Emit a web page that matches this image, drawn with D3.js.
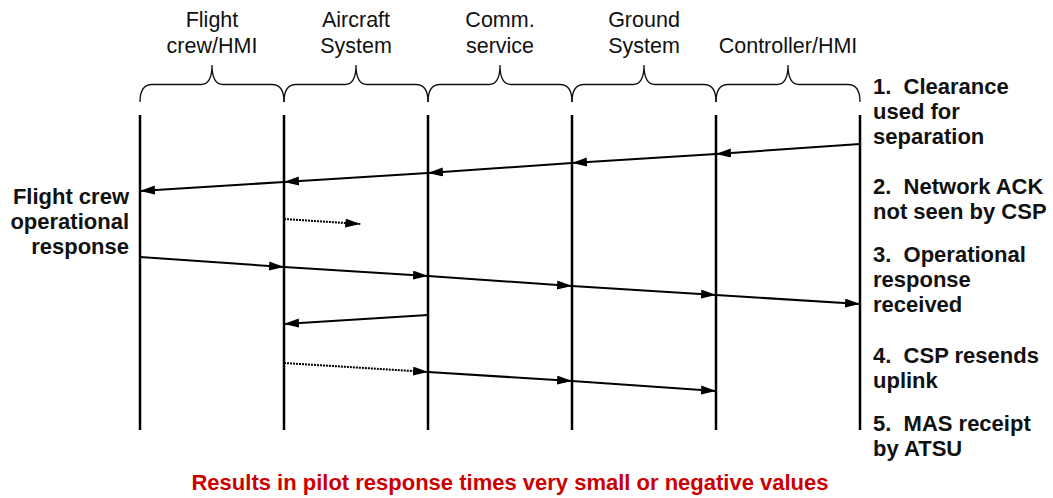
<!DOCTYPE html>
<html>
<head>
<meta charset="utf-8">
<script src="https://cdn.jsdelivr.net/npm/d3@7"></script>
<style>
  body { margin: 0; background: #fff; }
  svg { display: block; font-family: Arial, "Liberation Sans", sans-serif; }
  .lifeline { stroke: #000; stroke-width: 2.5; }
  .brace { fill: none; stroke: #111; stroke-width: 1.3; }
  .msg { fill: none; stroke: #000; stroke-width: 2; }
  .msg.unconfirmed { stroke-dasharray: 2, 1; }
  .lane { font-size: 21.5px; fill: #111; text-anchor: middle; }
  .step, .note { font-size: 22px; font-weight: bold; fill: #111; }
  .result { font-size: 22px; font-weight: bold; fill: #cc0000; text-anchor: middle; }
</style>
</head>
<body>
<svg id="chart"></svg>
<script>
/**********************************************
 *
 * sequence chart: lanes, messages, notes
 *
 **********************************************/
const width = 1053
const height = 498

// lanes sit between lifelines 0..5
const lifelines = [0, 1, 2, 3, 4, 5]
const laneLabels = [
    ["Flight", "crew/HMI"],
    ["Aircraft", "System"],
    ["Comm.", "service"],
    ["Ground", "System"],
    ["Controller/HMI"]
]

// messages: lifeline index per hop, and time of each hop
const uplinkHops = [5, 4, 3, 2, 1, 0]
const uplinkTimes = [29, 39, 48, 58, 67, 76]
const ackHops = [1, 1.53]
const ackTimes = [104, 109]
const responseHops = [0, 1, 2, 3, 4, 5]
const responseTimes = [142, 152, 161, 171, 180, 189]
const cspHops = [2, 1]
const cspTimes = [200, 209]
const resendHops = [1, 2]
const resendTimes = [248, 257]
const masHops = [2, 3, 4]
const masTimes = [257, 266, 276]

const messages = [
    { hops: uplinkHops, times: uplinkTimes, kind: "delivered" },
    { hops: ackHops, times: ackTimes, kind: "unconfirmed" },
    { hops: responseHops, times: responseTimes, kind: "delivered" },
    { hops: cspHops, times: cspTimes, kind: "delivered" },
    { hops: resendHops, times: resendTimes, kind: "unconfirmed" },
    { hops: masHops, times: masTimes, kind: "delivered" }
]

const steps = [
    ["1.  Clearance", "used for", "separation"],
    ["2.  Network ACK", "not seen by CSP"],
    ["3.  Operational", "response", "received"],
    ["4.  CSP resends", "uplink"],
    ["5.  MAS receipt", "by ATSU"]
]
const noteLines = ["Flight crew", "operational", "response"]
const resultText = "Results in pilot response times very small or negative values"

const timeMax = 315

function setupChart() {
    const chart = d3.select('#chart')
        .attr('width', width)
        .attr('height', height)

    const xScale = d3.scaleLinear().domain([0, 5]).range([140, 860])
    const yScale = d3.scaleLinear().domain([0, timeMax]).range([115, 430])

    chart.append('defs').append('marker')
        .attr('id', 'head')
        .attr('markerUnits', 'userSpaceOnUse')
        .attr('markerWidth', 16).attr('markerHeight', 10)
        .attr('refX', 15).attr('refY', 4.5)
        .attr('orient', 'auto')
        .append('path')
        .attr('d', 'M0,0 L15,4.5 L0,9 Z')
        .attr('fill', '#000')

    // lane titles
    laneLabels.forEach((lines, i) => {
        const cx = (xScale(i) + xScale(i + 1)) / 2
        const first = lines.length === 2 ? 27 : 53
        lines.forEach((t, k) => {
            chart.append('text').attr('class', 'lane')
                .attr('x', cx).attr('y', first + k * 26)
                .text(t)
        })
        drawBrace(chart, xScale(i), xScale(i + 1))
    })

    // lifelines
    chart.selectAll('.lifeline').data(lifelines).join('line')
        .attr('class', 'lifeline')
        .attr('x1', d => xScale(d)).attr('x2', d => xScale(d))
        .attr('y1', yScale(0)).attr('y2', yScale(timeMax))

    // message hops, each with its own arrowhead
    messages.forEach(m => {
        for (let k = 1; k < m.hops.length; k++) {
            chart.append('line')
                .attr('class', 'msg ' + m.kind)
                .attr('x1', xScale(m.hops[k - 1])).attr('y1', yScale(m.times[k - 1]))
                .attr('x2', xScale(m.hops[k])).attr('y2', yScale(m.times[k]))
                .attr('marker-end', 'url(#head)')
        }
    })

    // step list on the right
    const stepStarts = [94, 194, 262, 363, 431]
    steps.forEach((lines, i) => {
        lines.forEach((t, k) => {
            chart.append('text').attr('class', 'step')
                .attr('x', 873).attr('y', stepStarts[i] + k * 25)
                .attr('xml:space', 'preserve')
                .text(t)
        })
    })

    // note on the left
    noteLines.forEach((t, k) => {
        chart.append('text').attr('class', 'note')
            .attr('x', 129).attr('y', 204 + k * 25)
            .attr('text-anchor', 'end')
            .text(t)
    })

    chart.append('text').attr('class', 'result')
        .attr('x', 510).attr('y', 490)
        .text(resultText)
}

function drawBrace(chart, x0, x1) {
    const mid = (x0 + x1) / 2
    const yb = 84.5, ye = 102, yt = 65
    const p = d3.path()
    p.moveTo(x0, ye)
    p.bezierCurveTo(x0, yb + 6, x0 + 4, yb, x0 + 12, yb)
    p.lineTo(mid - 11, yb)
    p.bezierCurveTo(mid - 4, yb, mid, yb - 5, mid, yt)
    p.bezierCurveTo(mid, yb - 5, mid + 4, yb, mid + 11, yb)
    p.lineTo(x1 - 12, yb)
    p.bezierCurveTo(x1 - 4, yb, x1, yb + 6, x1, ye)
    chart.append('path').attr('class', 'brace').attr('d', p.toString())
}

setupChart()
</script>
</body>
</html>
